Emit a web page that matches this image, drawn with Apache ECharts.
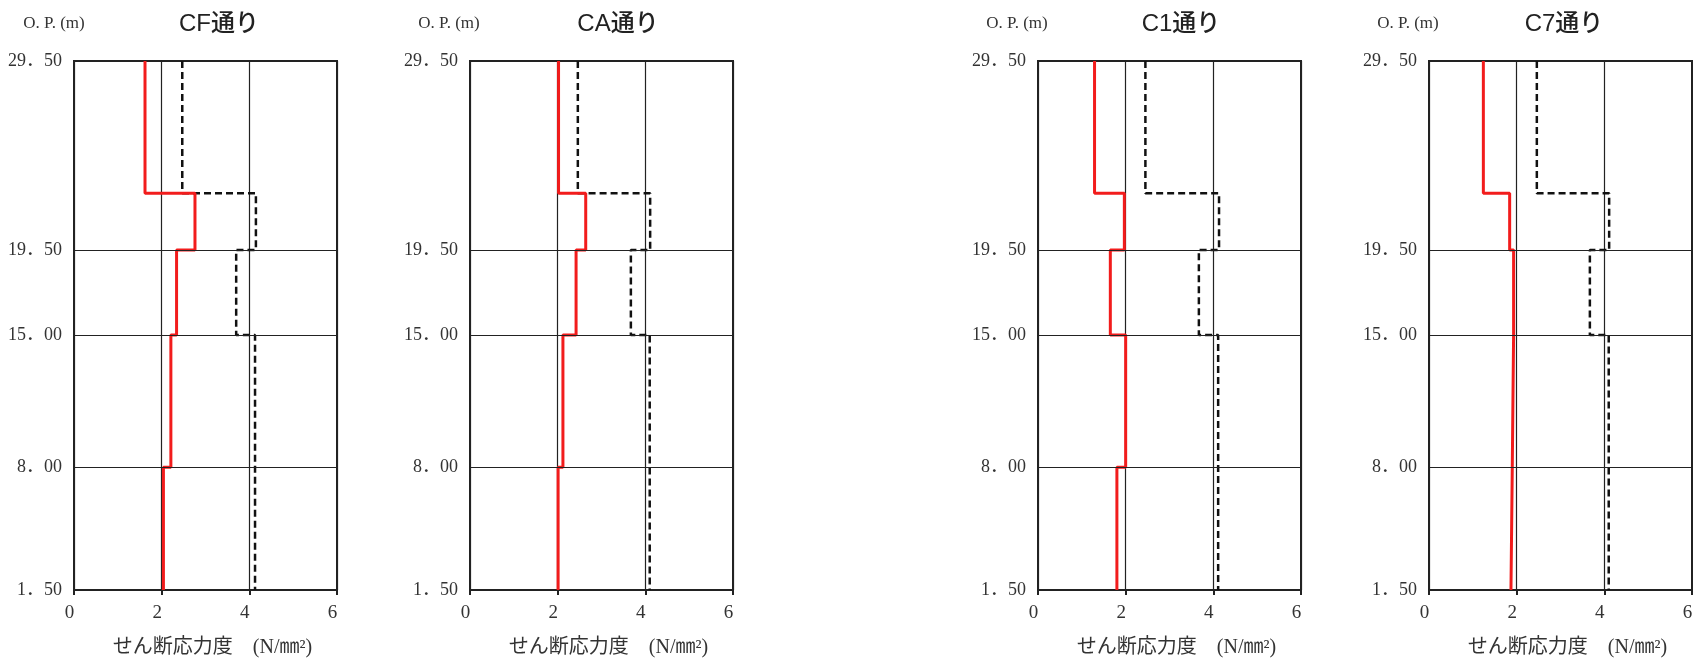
<!DOCTYPE html>
<html><head><meta charset="utf-8">
<script src="https://cdn.jsdelivr.net/npm/echarts@6/dist/echarts.min.js"></script>
<style>html,body{margin:0;padding:0;background:#fff}#c{width:1693px;height:658px}</style>
</head><body><div id="c"></div><script>
// ---- data ----
const panelNames = ['CF通り', 'CA通り', 'C1通り', 'C7通り'];
const levels = [29.5, 22.5, 19.5, 15, 8, 1.5];      // layer boundaries (O.P. m)
const yTicks = [29.5, 19.5, 15, 8, 1.5];
const gridLevels = [19.5, 15, 8];
const redCF = [1.62, 2.76, 2.34, 2.21, 2.04];
const redCA = [2.02, 2.64, 2.42, 2.12, 2.01];
const redC1 = [1.29, 1.97, 1.65, 2.00, 1.80];
const redC7 = [1.24, 1.84, 1.93, 1.90, 1.87];
const dashCF = [2.47, 4.15, 3.70, 4.13, 4.13];
const dashCA = [2.46, 4.11, 3.67, 4.10, 4.10];
const dashC1 = [2.45, 4.13, 3.67, 4.11, 4.11];
const dashC7 = [2.46, 4.11, 3.67, 4.10, 4.10];
const yAxisLabel = 'O. P. (m)';
const xAxisLabel = 'せん断応力度　(N/㎜²)';

// ---- layout ----
const redSets = [redCF, redCA, redC1, redC7];
const dashSets = [dashCF, dashCA, dashC1, dashC7];
const lefts = [74, 470, 1038, 1429];
const titleX = [219, 618, 1181, 1564];
const opX = [54, 449, 1017, 1408];
const W = 263, TOP = 61, H = 529;
const serif = "'Liberation Serif', 'Noto Sans CJK JP', serif";
const txt = '#333';

function steps(vals) {
  const pts = [];
  vals.forEach((v, i) => { pts.push([v, levels[i]]); pts.push([v, levels[i + 1]]); });
  return pts;
}

const grid = [], xAxis = [], yAxis = [], series = [], graphic = [];
panelNames.forEach((name, i) => {
  grid.push({ left: lefts[i], top: TOP, width: W, height: H, show: true, containLabel: false,
    outerBoundsMode: 'none',
    borderColor: '#222', borderWidth: 2, backgroundColor: 'transparent' });
  xAxis.push({ gridIndex: i, type: 'value', min: 0, max: 6, interval: 2,
    axisLine: { show: true, lineStyle: { color: '#222', width: 2 } },
    axisTick: { show: true, length: 5, lineStyle: { color: '#222', width: 2 } },
    splitLine: { show: true, lineStyle: { color: '#222', width: 1.2 } },
    axisLabel: { color: txt, fontFamily: serif, fontSize: 19, margin: 14, padding: [0, 9, 0, 0] },
    name: xAxisLabel, nameLocation: 'middle', nameGap: 48,
    nameTextStyle: { color: txt, fontFamily: serif, fontSize: 20, padding: [0, 0, 0, 14] } });
  yAxis.push({ gridIndex: i, type: 'value', min: 1.5, max: 29.5,
    axisLine: { show: true, lineStyle: { color: '#222', width: 2 } },
    axisTick: { show: false }, splitLine: { show: false },
    axisLabel: { customValues: yTicks, color: txt, fontFamily: serif, fontSize: 18, margin: 12,
      formatter: v => v.toFixed(2).replace('.', '．') } });
  series.push({ type: 'line', xAxisIndex: i, yAxisIndex: i, symbol: 'none', silent: true,
    data: steps(dashSets[i]), lineStyle: { color: '#111', width: 2.5, type: [7, 4] }, z: 3 });
  series.push({ type: 'line', xAxisIndex: i, yAxisIndex: i, symbol: 'none', silent: true,
    data: steps(redSets[i]), lineStyle: { color: '#f21c1c', width: 3 }, z: 4,
    markLine: { silent: true, symbol: 'none', label: { show: false },
      lineStyle: { color: '#222', width: 1.2, type: 'solid' },
      data: gridLevels.map(v => ({ yAxis: v })) } });
  graphic.push({ type: 'text', x: titleX[i], y: 24,
    style: { text: name, fill: '#222', font: "500 24px 'Liberation Sans', 'Noto Sans CJK JP', sans-serif",
      align: 'center', verticalAlign: 'middle' } });
  graphic.push({ type: 'text', x: opX[i], y: 24,
    style: { text: yAxisLabel, fill: txt, font: "17px " + serif, align: 'center', verticalAlign: 'middle' } });
});

const chart = echarts.init(document.getElementById('c'), null, { renderer: 'canvas' });
chart.setOption({ animation: false, backgroundColor: '#fff', grid, xAxis, yAxis, series, graphic });
</script></body></html>
